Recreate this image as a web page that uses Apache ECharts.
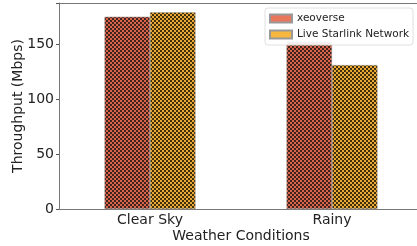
<!DOCTYPE html>
<html>
<head>
    <meta charset="UTF-8">
    <title>Throughput</title>
    <script src="https://cdn.jsdelivr.net/npm/echarts@6/dist/echarts.min.js"></script>
</head>
<body style="margin:0">
<div id="main" style="width: 417px;height:246px;"></div>
<script type="text/javascript">
    var categories = ['Clear Sky', 'Rainy'];
    var xeoverse = [175, 152];
    var starlink = [179, 131];
    var seriesNames = ['xeoverse', 'Live Starlink Network'];
    var yTicks = [0, 50, 100, 150];

    // dense 'x' hatch, drawn as a small tiled canvas
    function hatch(base, dark) {
        var c = document.createElement('canvas');
        c.width = 4; c.height = 4;
        var ctx = c.getContext('2d');
        ctx.fillStyle = dark;
        ctx.fillRect(0, 0, 4, 4);
        ctx.fillStyle = base;
        ctx.fillRect(0, 0, 2, 2);
        ctx.fillRect(2, 2, 2, 2);
        return {image: c, repeat: 'repeat'};
    }

    var font = 'DejaVu Sans';
    var myChart = echarts.init(document.getElementById('main'));
    var option = {
        animation: false,
        backgroundColor: '#fff',
        grid: {left: 59, top: 3, bottom: 37, width: 364, containLabel: false, outerBoundsMode: 'none'},
        legend: {
            data: [
                {name: seriesNames[0], itemStyle: {color: '#E8775C'}},
                {name: seriesNames[1], itemStyle: {color: '#F5B73D'}}
            ],
            orient: 'vertical',
            left: 265, top: 8,
            itemWidth: 22, itemHeight: 8, itemGap: 5,
            padding: [5, 4, 5, 4],
            borderColor: '#e0e0e0', borderWidth: 1, borderRadius: 3,
            backgroundColor: 'rgba(255,255,255,0.9)',
            textStyle: {fontFamily: font, fontSize: 10.5, color: '#222'},
            icon: 'rect'
        },
        xAxis: {
            type: 'category',
            data: categories,
            name: 'Weather Conditions',
            nameLocation: 'middle',
            nameGap: 20,
            nameMoveOverlap: false,
            nameTextStyle: {fontFamily: font, fontSize: 14, color: '#222'},
            axisLine: {lineStyle: {color: '#777'}},
            axisTick: {show: false},
            axisLabel: {fontFamily: font, fontSize: 14, color: '#222', margin: 4}
        },
        yAxis: {
            type: 'value',
            min: 0, max: 187.5, interval: 50,
            name: 'Throughput (Mbps)',
            nameLocation: 'middle',
            nameGap: 34,
            nameMoveOverlap: false,
            nameTextStyle: {fontFamily: font, fontSize: 14, color: '#222'},
            axisLine: {show: true, lineStyle: {color: '#777'}},
            axisTick: {show: true, length: 3, lineStyle: {color: '#555'}},
            splitLine: {show: false},
            axisLabel: {
                fontFamily: font, fontSize: 14, color: '#222', margin: 5,
                formatter: function (v) { return yTicks.indexOf(v) >= 0 ? v : ''; }
            }
        },
        series: [
            {
                name: seriesNames[0], type: 'bar', data: xeoverse,
                barWidth: '25%', barGap: '0%',
                itemStyle: {color: hatch('#D9644C', '#40241c'), borderColor: '#999', borderWidth: 0.5}
            },
            {
                name: seriesNames[1], type: 'bar', data: starlink,
                barWidth: '25%', barGap: '0%',
                itemStyle: {color: hatch('#E9A832', '#40300f'), borderColor: '#999', borderWidth: 0.5}
            }
        ]
    };
    myChart.setOption(option);

    // top spine
    myChart.setOption({
        graphic: [{
            type: 'line', silent: true,
            shape: {x1: 59, y1: 3.5, x2: 417, y2: 3.5},
            style: {stroke: '#777', lineWidth: 1}
        }]
    });
</script>
</body>
</html>
